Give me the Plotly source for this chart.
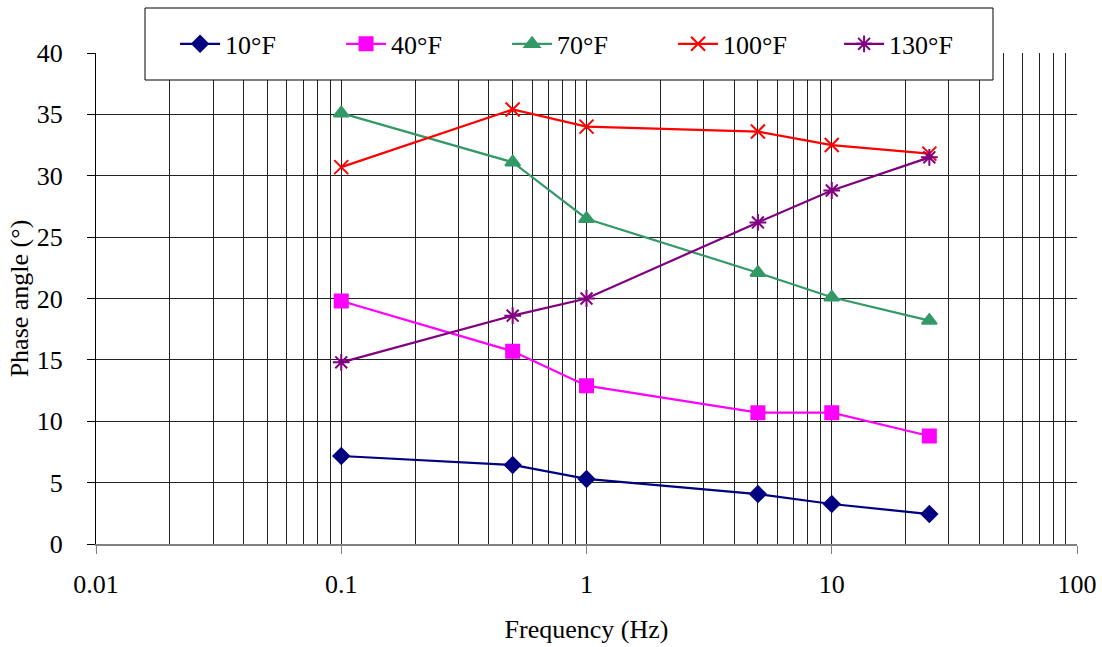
import plotly.graph_objects as go

freq = [0.1, 0.5, 1, 5, 10, 25]
series_names = ["10°F", "40°F", "70°F", "100°F", "130°F"]
phase_10F = [7.17, 6.44, 5.3, 4.07, 3.26, 2.44]
phase_40F = [19.8, 15.7, 12.9, 10.7, 10.7, 8.8]
phase_70F = [35.1, 31.1, 26.5, 22.1, 20.1, 18.2]
phase_100F = [30.7, 35.4, 34.0, 33.6, 32.5, 31.8]
phase_130F = [14.8, 18.6, 20.0, 26.2, 28.8, 31.5]
x_tick_vals = [0.01, 0.1, 1, 10, 100]
x_tick_text = ["0.01", "0.1", "1", "10", "100"]
y_tick_vals = [0, 5, 10, 15, 20, 25, 30, 35, 40]

colors = ["#000080", "#FF00FF", "#339966", "#FF0000", "#800080"]
symbols = ["diamond", "square", "triangle-up", "x-thin-open", "asterisk-open"]
sizes = [12, 13, 13, 14, 14]
values = [phase_10F, phase_40F, phase_70F, phase_100F, phase_130F]

FONT = "Liberation Serif, Times New Roman, serif"
FS = 26

fig = go.Figure()
for name, ys, c, s, sz in zip(series_names, values, colors, symbols, sizes):
    fig.add_trace(go.Scatter(
        x=freq, y=ys, name=name, mode="lines+markers",
        line=dict(color=c, width=2.2),
        marker=dict(symbol=s, size=sz, color=c, line=dict(color=c, width=2)),
    ))

fig.update_layout(
    width=1102, height=647,
    margin=dict(l=96, r=25, t=53, b=103, autoexpand=False),
    paper_bgcolor="white", plot_bgcolor="white",
    font=dict(family=FONT, size=FS, color="black"),
    showlegend=True,
    legend=dict(
        orientation="h", x=0.0806, xanchor="left", y=1.0185, yanchor="middle",
        bgcolor="rgba(0,0,0,0)", borderwidth=0,
        font=dict(family=FONT, size=FS),
        entrywidth=111, entrywidthmode="pixels", itemwidth=40,
    ),
    shapes=[dict(
        type="rect", xref="paper", yref="paper",
        x0=(145 - 96) / 981, x1=(993 - 96) / 981,
        y0=(544 - 80) / 491, y1=(544 - 8) / 491,
        line=dict(color="black", width=1), fillcolor="white", layer="above",
    )],
)

fig.update_xaxes(
    type="log", range=[-2, 2],
    tickvals=x_tick_vals, ticktext=x_tick_text,
    ticks="outside", ticklen=8, tickcolor="#808080",
    ticklabelstandoff=8,
    showgrid=True, gridcolor="#222222", gridwidth=1,
    minor=dict(dtick="D1", showgrid=True, gridcolor="#222222", gridwidth=1, ticks=""),
    showline=True, linecolor="#808080", linewidth=2,
    zeroline=False,
    title=dict(text="Frequency (Hz)", font=dict(family=FONT, size=FS), standoff=22),
    tickfont=dict(family=FONT, size=FS),
)
fig.update_yaxes(
    range=[0, 40], tickvals=y_tick_vals,
    ticks="outside", ticklen=8, tickcolor="black",
    ticklabelstandoff=19,
    showgrid=True, gridcolor="#222222", gridwidth=1,
    showline=True, linecolor="black", linewidth=1,
    zeroline=False,
    title=dict(text="Phase angle (°)", font=dict(family=FONT, size=FS), standoff=0),
    tickfont=dict(family=FONT, size=FS),
)

fig.write_html(
    "out.html",
    config={"displayModeBar": False},
    post_script="document.body.style.margin='0';document.body.style.overflow='hidden';",
)
